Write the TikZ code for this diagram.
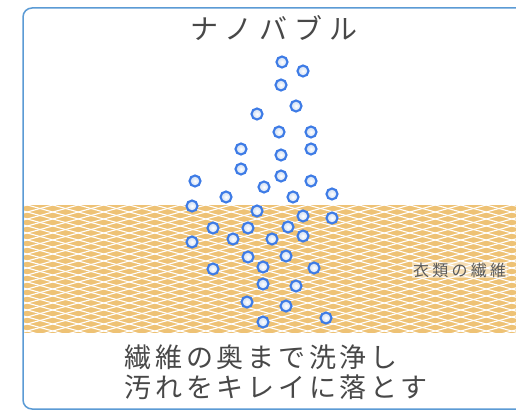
\documentclass[tikz,border=0pt]{standalone}
\usepackage{fontspec}
\newfontfamily\titlefont[LetterSpace=26]{Noto Sans CJK JP}
\newfontfamily\capfont[LetterSpace=14]{Noto Sans CJK JP}
\newfontfamily\labelfont[LetterSpace=20]{Noto Sans CJK JP}
\definecolor{frameblue}{HTML}{5B9BD5}
\definecolor{fibre}{HTML}{EEC275}
\definecolor{ringblue}{HTML}{3D7BE6}
\definecolor{bubblecore}{HTML}{C9DAF2}
\definecolor{textgray}{HTML}{484848}

\begin{document}
\begin{tikzpicture}[x=1pt,y=-1pt,
    bubble/.style={circle,draw=ringblue,line width=2.1pt,minimum size=11pt,inner sep=0pt,
        inner color=white,outer color=bubblecore},
    mesh/.style={white,line width=1.1pt}]
    \useasboundingbox (0,0) rectangle (516,411);
    \clip (0,0) rectangle (516,411);
    \fill[white] (0,0) rectangle (516,411);

    % cloth band
    \begin{scope}
        \clip (23,205) rectangle (530,333);
        \fill[fibre] (23,205) rectangle (530,333);
        \foreach \c in {0,7,...,336}
            \draw[mesh] (20,\c) -- (530,\c+140);
        \foreach \c in {200,207,...,500}
            \draw[mesh] (20,\c) -- (530,\c-140);
    \end{scope}

    % frame
    \draw[frameblue,line width=1.5pt,rounded corners=9pt] (23,8) rectangle (580,409);

    \node[text=textgray,font=\titlefont\fontsize{28}{32}\selectfont] (title) at (274,28) {ナノバブル};

    \node[text=textgray!90,font=\labelfont\fontsize{16}{18}\selectfont,
        fill=white,fill opacity=0.45,text opacity=1,inner sep=1pt,anchor=west] (cloth) at (412,270) {衣類の繊維};

    % bubbles
    \foreach \bx/\by [count=\i] in {282/62,303/71,281/85,296/106,257/114,279/132,311/132,
        241/149,281/155,311/149,241/169,281/176,311/181,195/181,264/187,226/197,293/197,332/194,
        192/206,257/211,303/216,332/218,213/228,248/228,288/227,
        192/242,233/239,272/239,303/236,248/257,286/256,
        213/269,263/267,314/268,263/284,296/286,247/302,286/306,263/322,326/318}
        \node[bubble] (b\i) at (\bx,\by) {};

    \node[text=textgray,font=\capfont\fontsize{27}{30}\selectfont,anchor=west] (cap1) at (121,357) {繊維の奥まで洗浄し};
    \node[text=textgray,font=\capfont\fontsize{27}{30}\selectfont,anchor=west] (cap2) at (121,387) {汚れをキレイに落とす};
\end{tikzpicture}
\end{document}
